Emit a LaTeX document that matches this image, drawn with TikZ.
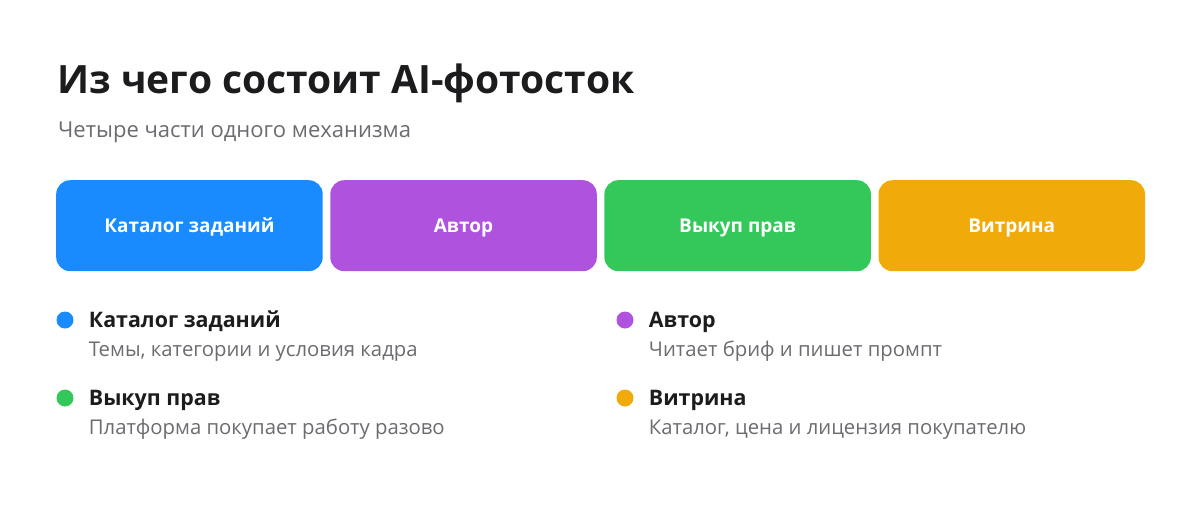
\documentclass[tikz,border=0pt]{standalone}
\usepackage{fontspec}
\setmainfont{Open Sans}
\usepackage{xcolor}
\usetikzlibrary{positioning}

\definecolor{ink}{HTML}{1C1C1E}
\definecolor{muted}{HTML}{6B6B70}
\definecolor{catblue}{HTML}{1A8AFF}
\definecolor{authpurple}{HTML}{AF52DE}
\definecolor{rightsgreen}{HTML}{34C759}
\definecolor{showorange}{HTML}{F0AA0A}

\begin{document}
\begin{tikzpicture}[
    x=1pt, y=-1pt,
    part/.style={rectangle, rounded corners=14pt, minimum width=266.5pt, minimum height=91pt, inner sep=0pt, text=white, text height=13.5pt, text depth=0pt, font=\bfseries\fontsize{19}{23}\selectfont},
    dot/.style={circle, minimum size=17pt, inner sep=0pt},
    itemhead/.style={inner sep=0pt, text=ink, text height=15pt, text depth=0pt, font=\bfseries\fontsize{21.4}{25}\selectfont},
    itemtext/.style={inner sep=0pt, anchor=base west, text=muted, font=\fontsize{20.3}{24}\selectfont}
]
\useasboundingbox (0,0) rectangle (1200,504);

% Title
\node[anchor=base west, inner sep=0pt, text=ink, font=\bfseries\fontsize{39}{47}\selectfont] (title) at (57,93) {Из чего состоит AI-фотосток};
\node[anchor=base west, inner sep=0pt, text=muted, font=\fontsize{22}{26}\selectfont] (subtitle) at (58,137) {Четыре части одного механизма};

% Four parts
\node[part, fill=catblue, anchor=north west] (catalog) at (56,180) {Каталог заданий};
\node[part, fill=authpurple, right=7.2pt of catalog] (author) {Автор};
\node[part, fill=rightsgreen, right=7.2pt of author] (rights) {Выкуп прав};
\node[part, fill=showorange, right=7.2pt of rights] (showcase) {Витрина};

% Legend
\node[dot, fill=catblue] (catalog_dot) at (65,320) {};
\node[itemhead, right=15pt of catalog_dot] (catalog_head) {Каталог заданий};
\node[itemtext] (catalog_text) at ([yshift=-28.5pt]catalog_head.base west) {Темы, категории и условия кадра};

\node[dot, fill=authpurple] (author_dot) at (625,320) {};
\node[itemhead, right=15pt of author_dot] (author_head) {Автор};
\node[itemtext] (author_text) at ([yshift=-28.5pt]author_head.base west) {Читает бриф и пишет промпт};

\node[dot, fill=rightsgreen] (rights_dot) at (65,398) {};
\node[itemhead, right=15pt of rights_dot] (rights_head) {Выкуп прав};
\node[itemtext] (rights_text) at ([yshift=-28.5pt]rights_head.base west) {Платформа покупает работу разово};

\node[dot, fill=showorange] (showcase_dot) at (625,398) {};
\node[itemhead, right=15pt of showcase_dot] (showcase_head) {Витрина};
\node[itemtext] (showcase_text) at ([yshift=-28.5pt]showcase_head.base west) {Каталог, цена и лицензия покупателю};

\end{tikzpicture}
\end{document}
